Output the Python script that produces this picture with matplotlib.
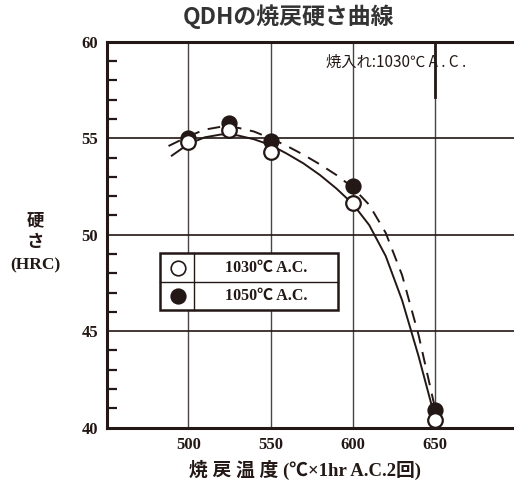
import matplotlib
matplotlib.use("Agg")
import matplotlib.pyplot as plt
from matplotlib.patches import Rectangle
from matplotlib.lines import Line2D
from matplotlib.ticker import MultipleLocator

# Measured hardness after tempering (two quench temperatures)
temper_temps = [500, 525, 550, 600, 650]
hrc_1030 = [54.8, 55.45, 54.3, 51.65, 40.4]
hrc_1050 = [55.0, 55.8, 54.85, 52.55, 40.9]

# Trend curves drawn through the data
curve_temps_1030 = [490, 500, 510, 520, 530, 540, 550, 560, 570, 580, 590, 600, 610, 620, 630, 640, 650]
curve_hrc_1030 = [54.1, 54.7, 55.05, 55.2, 55.15, 54.95, 54.65, 54.2, 53.7, 53.1, 52.4, 51.6, 50.5, 48.9, 46.6, 43.7, 40.5]
curve_temps_1050 = [488, 500, 510, 520, 530, 540, 550, 560, 570, 580, 590, 600, 610, 620, 630, 640, 650]
curve_hrc_1050 = [54.6, 55.1, 55.45, 55.6, 55.55, 55.35, 55.0, 54.6, 54.15, 53.65, 53.1, 52.45, 51.55, 50.1, 47.9, 44.8, 41.0]

x_ticks = [500, 550, 600, 650]
y_ticks = [40, 45, 50, 55, 60]
legend_labels = ["1030℃ A.C.", "1050℃ A.C."]

title = "QDHの焼戻硬さ曲線"
quench_note = "焼入れ:1030℃ A . C ."
x_label = "焼 戻 温 度 (℃×1hr A.C.2回)"
y_label = "硬\nさ\n(HRC)"

serif = ["Liberation Serif", "Noto Sans CJK JP"]
sans = ["Noto Sans CJK JP", "DejaVu Sans"]
ink = "#231815"

fig = plt.figure(figsize=(5.14, 4.84), dpi=100)
ax = fig.add_axes([0.2075, 0.1165, 0.7925, 0.797])
ax.set_xlim(450.4, 698)
ax.set_ylim(40, 60)

# grid
for t in x_ticks:
    ax.axvline(t, color="#4a4446", lw=1.0, zorder=1)
for h in y_ticks[1:-1]:
    ax.axhline(h, color=ink, lw=1.2, zorder=1)
ax.plot([650, 650], [60, 57.15], color=ink, lw=2.0, zorder=1)

# spines
for side in ("left", "bottom", "top"):
    ax.spines[side].set_linewidth(2.2)
    ax.spines[side].set_color(ink)
ax.spines["right"].set_visible(False)

ax.set_xticks(x_ticks)
ax.set_yticks(y_ticks)
ax.yaxis.set_minor_locator(MultipleLocator(1))
ax.tick_params(axis="x", length=0, pad=7)
ax.tick_params(axis="y", which="major", length=0, pad=6)
ax.tick_params(axis="y", which="minor", direction="in", length=7, width=1.6, color=ink)
for lab in ax.get_xticklabels() + ax.get_yticklabels():
    lab.set_fontfamily(serif)
    lab.set_fontsize(12)
    lab.set_fontweight("bold")
    lab.set_color(ink)

# curves
ax.plot(curve_temps_1030, curve_hrc_1030, color=ink, lw=1.4, zorder=3)
ax.plot(curve_temps_1050, curve_hrc_1050, color=ink, lw=1.4,
        linestyle=(0, (6.5, 4.5)), zorder=3)

# data points
ax.plot(temper_temps, hrc_1050, "o", ms=10.5, mfc=ink, mec=ink, mew=1.2, zorder=4, clip_on=False)
ax.plot(temper_temps, hrc_1030, "o", ms=10.5, mfc="white", mec=ink, mew=1.6, zorder=5, clip_on=False)

# table-style legend
tr = fig.transFigure
W, H = 514.0, 484.0
bx0, by0, bx1, by1 = 160, 253, 338, 310
midy = 282
divx = 194
fig.patches.append(Rectangle((bx0 / W, 1 - by1 / H), (bx1 - bx0) / W, (by1 - by0) / H,
                             transform=tr, facecolor="white", edgecolor=ink, lw=1.8, zorder=10))
fig.lines.append(Line2D([bx0 / W, bx1 / W], [1 - midy / H] * 2, transform=tr, color=ink, lw=1.0, zorder=11))
fig.lines.append(Line2D([divx / W] * 2, [1 - by0 / H, 1 - by1 / H], transform=tr, color=ink, lw=1.0, zorder=11))
rows = [(268, "white"), (296, ink)]
for (cy, face), lab in zip(rows, legend_labels):
    fig.lines.append(Line2D([178 / W], [1 - cy / H], transform=tr, marker="o", ms=10.5,
                            mfc=face, mec=ink, mew=1.2, linestyle="none", zorder=12))
    fig.text(266 / W, 1 - cy / H, lab, ha="center", va="center", fontfamily=serif,
             fontsize=11.5, fontweight="bold", color=ink, zorder=12)

# texts
fig.text(288 / W, 1 - 17 / H, title, ha="center", va="center", fontfamily=sans,
         fontsize=16.5, fontweight="bold", color="#333333")
fig.text(326 / W, 1 - 62 / H, quench_note, ha="left", va="center", fontfamily=sans,
         fontsize=11, color=ink)
fig.text(35 / W, 1 - 243 / H, y_label, ha="center", va="center", fontfamily=serif,
         fontsize=12.5, fontweight="bold", color=ink, linespacing=1.5)
fig.text(305 / W, 1 - 470 / H, x_label, ha="center", va="center", fontfamily=serif,
         fontsize=13.5, fontweight="bold", color=ink)

fig.savefig("out.png", dpi=100)
